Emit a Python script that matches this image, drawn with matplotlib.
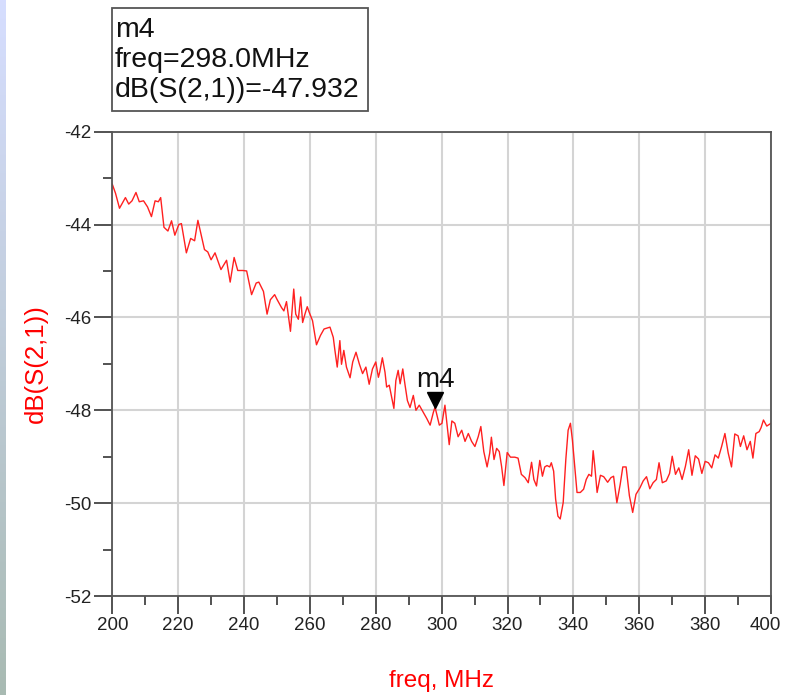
import numpy as np
import matplotlib.pyplot as plt
from matplotlib.ticker import MultipleLocator, FuncFormatter
from matplotlib.transforms import offset_copy

plt.rcParams['font.family'] = ['Liberation Sans', 'DejaVu Sans']
plt.rcParams['axes.unicode_minus'] = False

# S21 sweep
freq_mhz = [
    200.0, 201.0, 202.2, 204.0, 205.0, 206.0, 207.2, 208.2, 209.5, 210.7,
    211.9, 213.0, 214.0, 214.7, 215.7, 216.9, 218.0, 219.0, 220.2, 221.0,
    222.5, 223.8, 225.0, 226.0, 228.0, 229.0, 230.0, 231.2, 233.0, 234.7,
    235.8, 237.0, 238.1, 239.6, 240.8, 242.3, 243.7, 244.5, 245.9, 247.0,
    248.0, 249.3, 250.0, 251.4, 252.1, 252.9, 253.4, 254.1, 255.1, 255.7,
    256.5, 257.2, 257.8, 258.5, 259.2, 259.8, 260.8, 262.0, 263.2, 264.3,
    266.1, 267.1, 267.6, 268.3, 269.1, 269.6, 270.3, 271.1, 272.2, 273.0,
    274.0, 275.0, 276.0, 277.0, 278.0, 279.0, 280.0, 280.8, 281.2, 282.0,
    282.8, 283.3, 284.1, 284.8, 285.5, 286.1, 286.8, 287.4, 288.2, 288.9,
    289.6, 290.4, 291.4, 292.2, 293.2, 294.4, 295.5, 296.5, 297.5, 298.0,
    299.3, 300.1, 301.0, 301.7, 302.3, 303.1, 304.0, 305.0, 306.1, 307.1,
    308.1, 309.1, 310.1, 311.1, 311.9, 312.8, 313.8, 314.6, 315.1, 315.9,
    316.7, 317.5, 318.2, 318.9, 319.9, 320.9, 322.2, 323.2, 324.2, 325.3,
    326.3, 327.3, 328.0, 328.8, 329.8, 330.6, 331.3, 332.0, 332.8, 333.3,
    334.0, 334.6, 335.3, 336.0, 336.9, 337.7, 338.4, 339.1, 339.7, 340.4,
    341.1, 342.1, 343.1, 343.9, 344.7, 345.5, 346.0, 346.5, 347.2, 348.2,
    349.2, 350.4, 351.4, 352.2, 353.2, 354.2, 355.0, 356.0, 357.0, 358.0,
    359.0, 360.2, 361.2, 362.2, 363.2, 364.2, 365.2, 366.0, 367.0, 368.2,
    369.2, 370.0, 371.0, 372.0, 373.0, 374.0, 375.0, 376.0, 377.0, 378.0,
    379.0, 380.0, 381.0, 382.0, 383.0, 384.0, 385.0, 386.0, 387.0, 388.0,
    389.0, 390.0, 390.7, 391.7, 392.7, 393.7, 394.5, 395.4, 396.4, 397.0,
    397.7, 398.7, 400.0,
]
s21_db = [
    -43.13, -43.33, -43.65, -43.42, -43.56, -43.49, -43.31, -43.51, -43.49, -43.62,
    -43.83, -43.49, -43.51, -43.42, -44.06, -44.14, -43.92, -44.23, -44.00, -43.98,
    -44.61, -44.30, -44.35, -43.91, -44.54, -44.59, -44.76, -44.61, -44.97, -44.77,
    -45.24, -44.71, -44.99, -44.99, -45.00, -45.51, -45.26, -45.24, -45.44, -45.93,
    -45.62, -45.51, -45.61, -45.79, -45.86, -45.66, -45.93, -46.30, -45.39, -45.93,
    -46.04, -45.56, -46.11, -45.93, -45.77, -45.89, -46.07, -46.59, -46.39, -46.25,
    -46.21, -46.43, -46.71, -47.07, -46.50, -47.01, -46.71, -47.07, -47.30, -46.96,
    -46.75, -47.00, -47.21, -47.07, -47.44, -47.11, -46.96, -47.29, -47.18, -46.87,
    -47.18, -47.50, -47.46, -47.71, -47.96, -47.36, -47.14, -47.43, -47.11, -47.46,
    -47.79, -47.94, -47.68, -48.00, -47.89, -48.04, -48.18, -48.32, -48.04, -47.932,
    -48.32, -48.28, -47.89, -48.35, -48.74, -48.23, -48.28, -48.57, -48.43, -48.67,
    -48.50, -48.67, -48.78, -48.57, -48.35, -48.89, -49.22, -48.92, -48.58, -49.06,
    -48.82, -48.89, -49.21, -49.62, -48.91, -49.01, -49.01, -49.03, -49.38, -49.45,
    -49.56, -49.12, -49.49, -49.63, -49.08, -49.42, -49.22, -49.19, -49.22, -49.13,
    -49.31, -49.91, -50.28, -50.34, -49.99, -49.06, -48.43, -48.28, -48.64, -49.21,
    -49.77, -49.77, -49.70, -49.49, -49.38, -49.42, -48.87, -49.21, -49.77, -49.40,
    -49.43, -49.55, -49.45, -49.42, -49.99, -49.60, -49.22, -49.22, -49.84, -50.20,
    -49.81, -49.67, -49.52, -49.43, -49.69, -49.56, -49.49, -49.13, -49.56, -49.52,
    -49.36, -48.99, -49.38, -49.24, -49.49, -49.21, -48.85, -49.40, -48.98, -49.05,
    -49.36, -49.10, -49.13, -49.24, -48.96, -49.03, -48.78, -48.50, -48.92, -49.22,
    -48.51, -48.55, -48.78, -48.55, -48.85, -48.67, -49.03, -48.50, -48.46, -48.37,
    -48.21, -48.34, -48.28,
]

marker_name = 'm4'
marker_freq = 298.0
marker_db = -47.932
x_label = 'freq, MHz'
y_label = 'dB(S(2,1))'
x_min, x_max = 200, 400
y_min, y_max = -52, -42

fig = plt.figure(figsize=(7.85, 6.95), dpi=100)

# slide-like strip on the left edge
strip = fig.add_axes([0, 0, 0.007, 1])
grad = np.linspace(0, 1, 256).reshape(-1, 1, 1)
top_c = np.array([0.84, 0.87, 1.0])
bot_c = np.array([0.66, 0.73, 0.70])
strip.imshow(top_c * (1 - grad) + bot_c * grad, aspect='auto')
strip.axis('off')

ax = fig.add_axes([0.1430, 0.1424, 0.8392, 0.6682])
ax.plot(freq_mhz, s21_db, color='#ff2020', lw=1.0)

ax.set_xlim(x_min, x_max)
ax.set_ylim(y_min, y_max)
ax.xaxis.set_major_locator(MultipleLocator(20))
ax.xaxis.set_minor_locator(MultipleLocator(10))
ax.yaxis.set_major_locator(MultipleLocator(2))
ax.yaxis.set_minor_locator(MultipleLocator(1))
# last x label is written separately so it stays inside the figure
ax.xaxis.set_major_formatter(FuncFormatter(lambda v, p: '' if v >= x_max else '%d' % v))
ax.grid(True, which='major', color='#d4d4d4', lw=1.5)
ax.set_axisbelow(True)

ax.tick_params(which='major', direction='out', length=13, width=1.3,
               color='#444444', labelsize=13.5, labelcolor='#222222', pad=2)
ax.tick_params(which='minor', direction='out', length=6.5, width=1.3, color='#444444')
for sp in ax.spines.values():
    sp.set_color('#555555')
    sp.set_linewidth(1.3)

end_tr = offset_copy(ax.transData, fig=fig, x=-4, y=-15, units='points')
ax.text(x_max, y_min, '%d' % x_max, transform=end_tr, ha='center', va='top',
        fontsize=13.5, color='#222222', clip_on=False)

ax.set_xlabel(x_label, color='#ff0000', fontsize=17.5, labelpad=26)
ax.set_ylabel(y_label, color='#ff0000', fontsize=18.5, labelpad=12)

# marker triangle sitting on the trace, with its name above
tri_tr = offset_copy(ax.transData, fig=fig, x=0, y=7.5, units='dots')
ax.plot([marker_freq], [marker_db], marker='v', color='black', ms=12,
        transform=tri_tr, clip_on=False)
name_tr = offset_copy(ax.transData, fig=fig, x=0, y=20, units='dots')
ax.text(marker_freq, marker_db, marker_name, transform=name_tr,
        ha='center', va='baseline', fontsize=20, color='#111111')

# marker readout box
fig.patches.append(plt.Rectangle((112 / 785, 1 - 110.5 / 695), 256 / 785, 102 / 695,
                                 transform=fig.transFigure, fill=False,
                                 edgecolor='#555555', lw=1.3))
readout = [marker_name, 'freq=%.1fMHz' % marker_freq, 'dB(S(2,1))=%.3f' % marker_db]
for i, line in enumerate(readout):
    fig.text(115 / 785, 1 - (37 + 29.8 * i) / 695, line, fontsize=20.5,
             color='#111111', va='baseline', ha='left')

plt.savefig('out.png', dpi=100)
